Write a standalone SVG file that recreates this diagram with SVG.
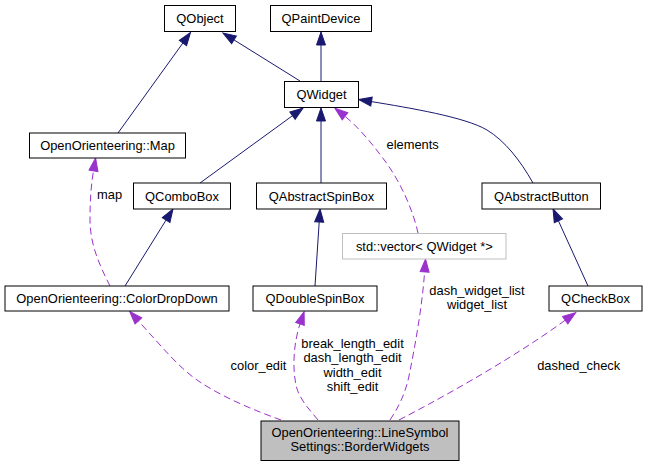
<svg xmlns="http://www.w3.org/2000/svg" width="648" height="467" viewBox="0 0 648 467">
<style>
text{font-family:"Liberation Sans",Arial,Helvetica,sans-serif;font-size:12.9px;fill:#000}
.n rect{fill:#fff;stroke:#000;stroke-width:1}
.n text{text-anchor:middle}
.inh{fill:none;stroke:#191970;stroke-width:1}
.use{fill:none;stroke:#9a32cd;stroke-width:1;stroke-dasharray:7,4}
.lbl{text-anchor:middle}
</style>
<defs>
<marker id="ah" markerUnits="userSpaceOnUse" markerWidth="14" markerHeight="10" refX="0" refY="4.5" orient="auto" viewBox="0 0 14 10" overflow="visible">
<path d="M0,0 L13,4.5 L0,9 z" fill="#191970" stroke="#191970" stroke-width="1"/>
</marker>
<marker id="au" markerUnits="userSpaceOnUse" markerWidth="14" markerHeight="10" refX="0" refY="4.5" orient="auto" viewBox="0 0 14 10" overflow="visible">
<path d="M0,0 L13,4.5 L0,9 z" fill="#9a32cd" stroke="#9a32cd" stroke-width="1"/>
</marker>
</defs>
<rect width="648" height="467" fill="#fff"/>
<g id="edges">
<path class="inh" marker-end="url(#ah)" d="M300,81 L234,39.9"/>
<path class="inh" marker-end="url(#ah)" d="M118,133 L182.9,43"/>
<path class="inh" marker-end="url(#ah)" d="M321,81 L321,45"/>
<path class="inh" marker-end="url(#ah)" d="M200,183 L292.5,115.7"/>
<path class="inh" marker-end="url(#ah)" d="M321,183 L321,121"/>
<path class="inh" marker-end="url(#ah)" d="M533,183 C520,160 505,141 487,130 C465,117 410,108 371.5,101.6"/>
<path class="inh" marker-end="url(#ah)" d="M125,286 L166.1,220"/>
<path class="inh" marker-end="url(#ah)" d="M315,286 L319.2,222"/>
<path class="inh" marker-end="url(#ah)" d="M588,286 L558.4,220.8"/>
<path class="use" marker-end="url(#au)" d="M110,286 C100,266 90,245 90,220 C90,200 91,186 93.5,170.8"/>
<path class="use" marker-end="url(#au)" d="M418,233 C413,210 400,180 382,157 C370,141 357,126 345,116.3"/>
<path class="use" marker-end="url(#au)" d="M281,420 C256,411 224,398 200,382 C180,369 163,348 138.4,321"/>
<path class="use" marker-end="url(#au)" d="M318,420 C309,409 299,399 296,385 C292,366 294,342 300,324"/>
<path class="use" marker-end="url(#au)" d="M390,420 C398,408 405,395 409,376 C415,346 422,308 424.6,272"/>
<path class="use" marker-end="url(#au)" d="M399,420 C430,404 508,362 565.2,320.2"/>
<text x="97" y="199">map</text>
<text x="386.5" y="149">elements</text>
<text class="lbl" x="258.5" y="369.5">color_edit</text>
<text class="lbl" x="352.5" y="347.5">break_length_edit</text>
<text class="lbl" x="352.5" y="362">dash_length_edit</text>
<text class="lbl" x="352.5" y="376.5">width_edit</text>
<text class="lbl" x="352.5" y="391">shift_edit</text>
<text class="lbl" x="477" y="295">dash_widget_list</text>
<text class="lbl" x="477" y="309">widget_list</text>
<text class="lbl" x="578.7" y="369.5">dashed_check</text>
</g>
<g id="QObject" class="n"><rect x="164.5" y="5.5" width="71" height="26"/><text x="200" y="23">QObject</text></g>
<g id="QPaintDevice" class="n"><rect x="270.5" y="5.5" width="101" height="26"/><text x="321" y="23">QPaintDevice</text></g>
<g id="QWidget" class="n"><rect x="284.5" y="81.5" width="74" height="26"/><text x="321.5" y="99">QWidget</text></g>
<g id="Map" class="n"><rect x="29.5" y="133" width="156" height="25"/><text x="107.5" y="150">OpenOrienteering::Map</text></g>
<g id="QComboBox" class="n"><rect x="133.5" y="183" width="97" height="26"/><text x="182" y="200.5">QComboBox</text></g>
<g id="QAbstractSpinBox" class="n"><rect x="256.5" y="183" width="130" height="26"/><text x="321.5" y="200.5">QAbstractSpinBox</text></g>
<g id="QAbstractButton" class="n"><rect x="482" y="183" width="118.5" height="26"/><text x="541.3" y="200.5">QAbstractButton</text></g>
<g id="vector" class="n"><rect x="342.5" y="233.5" width="163.5" height="25.5" style="stroke:#bfbfbf"/><text x="424.3" y="250.5">std::vector&lt; QWidget *&gt;</text></g>
<g id="ColorDropDown" class="n"><rect x="5" y="286" width="224" height="25"/><text x="117" y="303">OpenOrienteering::ColorDropDown</text></g>
<g id="QDoubleSpinBox" class="n"><rect x="253" y="286" width="124" height="25"/><text x="315" y="303">QDoubleSpinBox</text></g>
<g id="QCheckBox" class="n"><rect x="549" y="286" width="93" height="25"/><text x="595.5" y="303">QCheckBox</text></g>
<g id="BorderWidgets" class="n"><rect x="261" y="421" width="198" height="39.5" style="fill:#bfbfbf"/><text x="360" y="437">OpenOrienteering::LineSymbol</text><text x="360" y="451">Settings::BorderWidgets</text></g>
</svg>
